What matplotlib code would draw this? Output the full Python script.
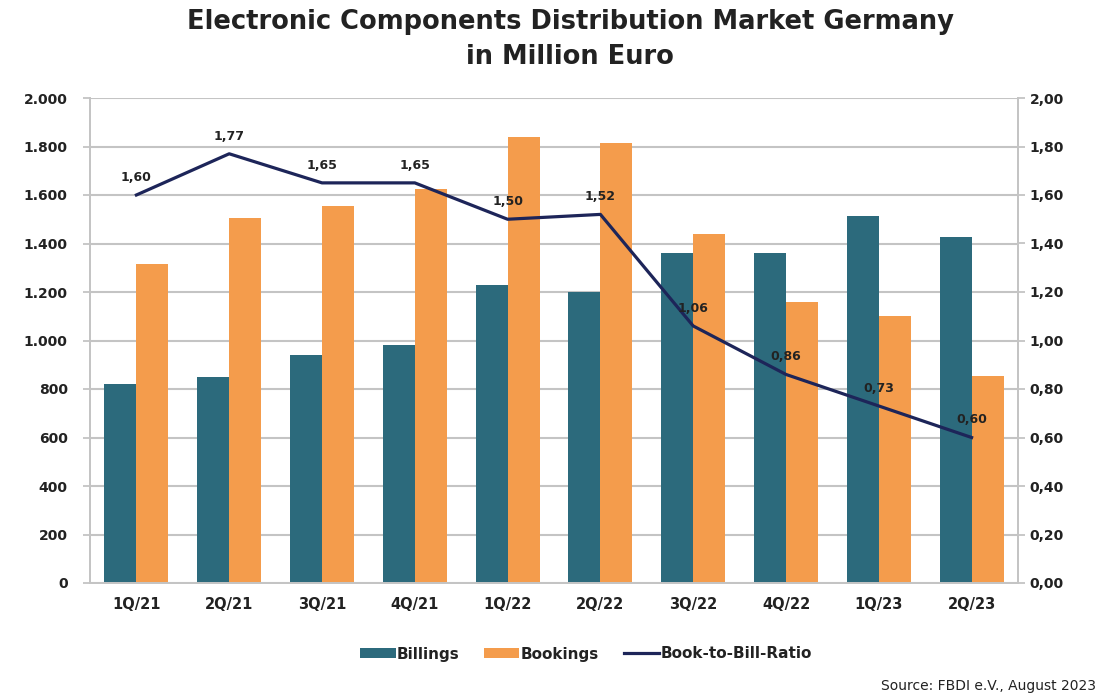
import matplotlib.pyplot as plt
import numpy as np

plt.rcParams['font.family'] = ['DejaVu Sans']

quarter = ["1Q/21", "2Q/21", "3Q/21", "4Q/21", "1Q/22", "2Q/22", "3Q/22", "4Q/22", "1Q/23", "2Q/23"]
billings = [820, 850, 940, 980, 1230, 1200, 1360, 1360, 1515, 1425]
bookings = [1315, 1505, 1555, 1625, 1840, 1815, 1440, 1160, 1100, 855]
ratio = [1.60, 1.77, 1.65, 1.65, 1.50, 1.52, 1.06, 0.86, 0.73, 0.60]

teal = "#2c6a7c"
orange = "#f49c4c"
navy = "#1d2559"
grid = "#c4c4c4"
ink = "#222222"

fig = plt.figure(figsize=(10.99, 6.94), dpi=100)
ax = fig.add_axes([90/1099, 111/694, 928/1099, 485/694])
ax2 = ax.twinx()

x = np.arange(len(quarter))
w = 0.345
ax.bar(x - w/2, billings, w, color=teal, label="Billings", zorder=2)
ax.bar(x + w/2, bookings, w, color=orange, label="Bookings", zorder=2)
ax2.plot(x, ratio, color=navy, lw=2.3, label="Book-to-Bill-Ratio", zorder=3)
for xi, r in zip(x, ratio):
    ax2.annotate(f"{r:.2f}".replace(".", ","), (xi, r), xytext=(0, 8), textcoords="offset points",
                 ha="center", va="bottom", fontsize=9, fontweight="bold", color=ink)

ax.set_xlim(-0.5, len(quarter) - 0.5)
ax.set_ylim(0, 2000)
ax2.set_ylim(0, 2)
ax.set_yticks(np.arange(0, 2001, 200))
ax.set_yticklabels([f"{v:,}".replace(",", ".") for v in range(0, 2001, 200)])
ax2.set_yticks(np.arange(0, 2.01, 0.2))
ax2.set_yticklabels([f"{v:.2f}".replace(".", ",") for v in np.arange(0, 2.01, 0.2)])
ax.set_xticks(x)
ax.set_xticklabels(quarter)
ax.yaxis.grid(True, color=grid, lw=1.5, zorder=0)
ax.set_axisbelow(True)

for a in (ax, ax2):
    for s in a.spines.values():
        s.set_color(grid)
        s.set_linewidth(1.3)
    a.spines["top"].set_visible(False)
    a.tick_params(colors=ink, labelsize=10, length=5, color=grid, width=1.3)
    for lab in a.get_xticklabels() + a.get_yticklabels():
        lab.set_fontweight("bold")
ax.tick_params(axis="y", pad=11)
ax.tick_params(axis="x", length=0, pad=10, labelsize=10.5)

fig.text(0.519, 1 - 22/694, "Electronic Components Distribution Market Germany",
         ha="center", va="center", fontsize=18.5, fontweight="bold", color=ink)
fig.text(0.519, 1 - 57/694, "in Million Euro",
         ha="center", va="center", fontsize=18.5, fontweight="bold", color=ink)

h1, l1 = ax.get_legend_handles_labels()
h2, l2 = ax2.get_legend_handles_labels()
leg = fig.legend(h1 + h2, l1 + l2, loc="center", bbox_to_anchor=(586/1099, 1 - 654/694), ncol=3,
                 frameon=False, fontsize=11, handlelength=2.3, handleheight=0.55, columnspacing=1.6,
                 handletextpad=0.1)
for t in leg.get_texts():
    t.set_fontweight("bold")
    t.set_color(ink)

fig.text(0.997, 1 - 686/694, "Source: FBDI e.V., August 2023", ha="right", va="center", fontsize=10,
         color=ink)

fig.savefig("out.png", dpi=100)
